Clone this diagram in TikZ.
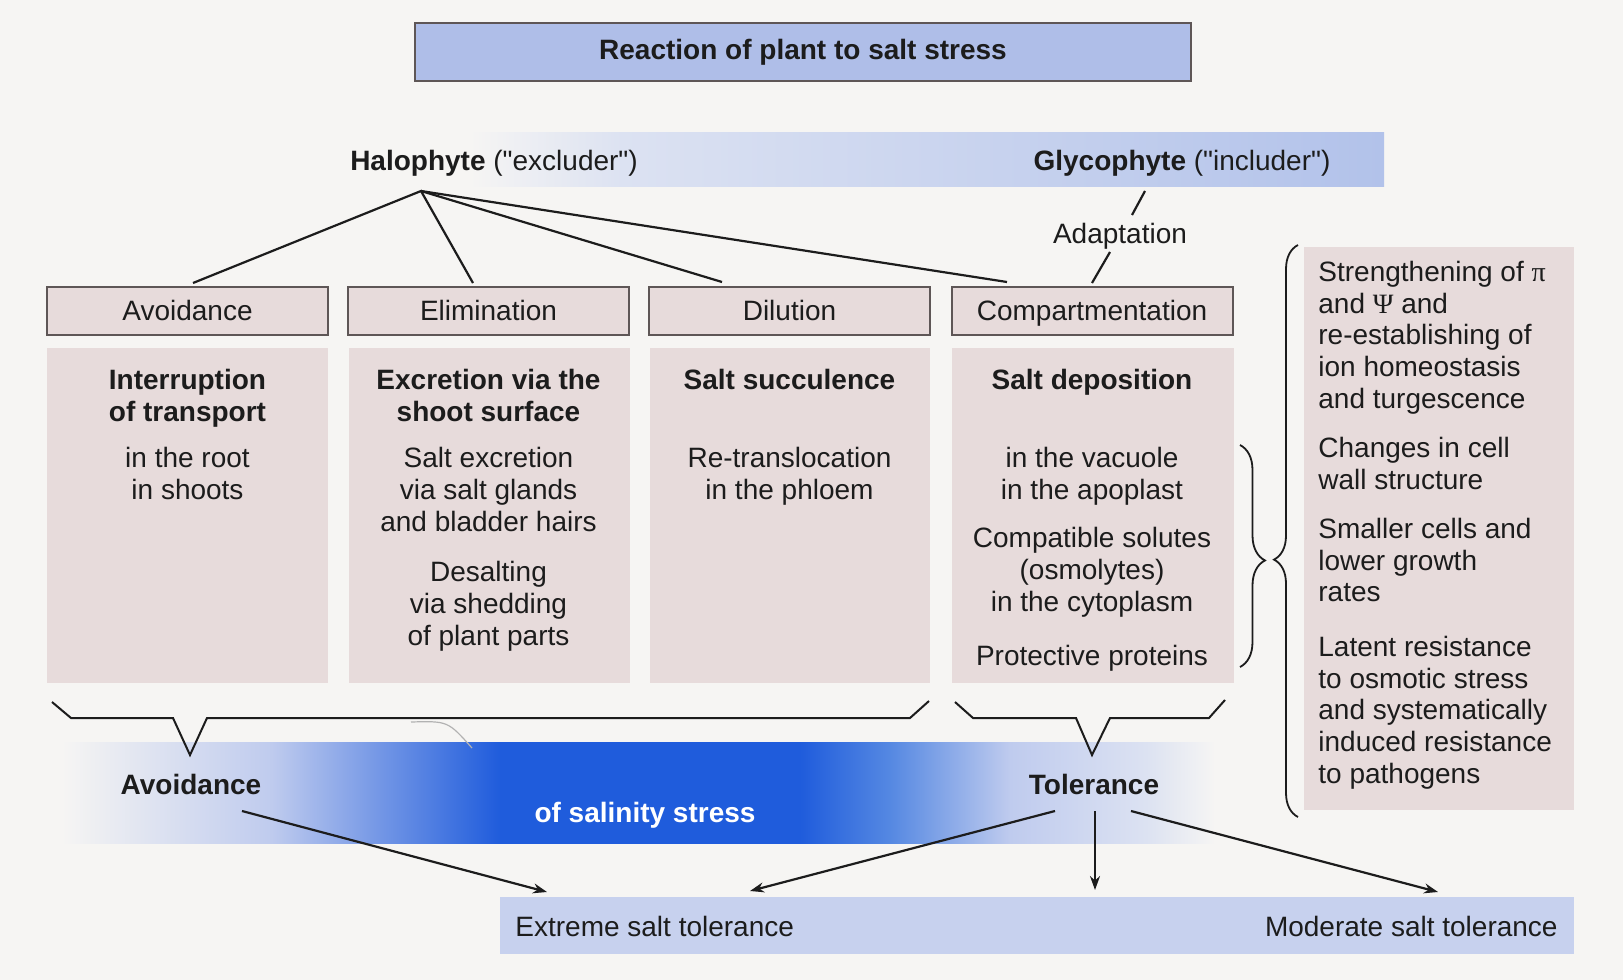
\documentclass[tikz,border=0pt]{standalone}
\usepackage{fontspec}
\setmainfont{Liberation Sans}
\newfontfamily\grk{Liberation Serif}
\newfontfamily\qfont{Liberation Sans}[Ligatures=TeXOff]
\newcommand{\dq}{{\qfont"}}
\usetikzlibrary{arrows.meta,decorations.pathreplacing}

\definecolor{paper}{HTML}{F6F5F3}
\definecolor{titleblue}{HTML}{AFBEE8}
\definecolor{bandpale}{HTML}{DCE2F2}
\definecolor{bandblue}{HTML}{B2C2EA}
\definecolor{boxpink}{HTML}{E7DBDB}
\definecolor{boxline}{HTML}{5E5656}
\definecolor{ink}{HTML}{1C1C1C}
\definecolor{deepblue}{HTML}{1F5CDC}
\definecolor{midblue}{HTML}{5588E2}
\definecolor{lightblue}{HTML}{BFCBEE}
\definecolor{lowblue}{HTML}{C7D1EE}

% salinity band: 25bp..75bp spans the filled rectangle
\pgfdeclarehorizontalshading{salinityband}{100bp}{%
  color(0bp)=(paper); color(25bp)=(paper); color(34.1bp)=(lightblue);
  color(44bp)=(deepblue); color(57bp)=(deepblue); color(60.9bp)=(midblue);
  color(66.1bp)=(lightblue); color(72bp)=(bandpale); color(75bp)=(paper); color(100bp)=(paper)}

\begin{document}
\begin{tikzpicture}[x=0.5pt,y=-0.5pt,
  every node/.style={inner sep=0pt, text=ink, font=\fontsize{14}{16}\selectfont},
  catbox/.style={draw=boxline, line width=1pt, fill=boxpink,
    minimum width=140.5pt, minimum height=24pt, text height=11pt, text depth=2pt},
  coltext/.style={align=center, anchor=north},
  sidetext/.style={align=left, anchor=north west, font=\fontsize{14}{15.8}\selectfont},
  link/.style={draw=ink, line width=1.1pt},
  arr/.style={draw=ink, line width=1.1pt, -{Stealth[length=7pt,width=5pt]}},
  bracket/.style={draw=ink, line width=1pt, line join=miter},
  bracegrp/.style={draw=ink, line width=0.9pt, decorate}
]
\useasboundingbox (0,0) rectangle (1623,980);
\fill[paper] (0,0) rectangle (1623,980);

% ---- title ----
\node[draw=boxline, line width=1.2pt, fill=titleblue, minimum width=388pt,
  minimum height=29pt, font=\fontsize{14}{16}\selectfont\bfseries] (title) at (803,52)
  {Reaction of plant to salt stress};

% ---- halophyte / glycophyte band ----
\fill[left color=paper, right color=bandpale] (470,132) rectangle (622,186);
\fill[left color=bandpale, right color=bandblue] (620,132) rectangle (1384,186);
\node[anchor=base] (halo) at (494,170) {\textbf{Halophyte} (\dq excluder\dq)};
\node[anchor=base] (glyco) at (1182,170) {\textbf{Glycophyte} (\dq includer\dq)};

% ---- category boxes ----
\node[catbox] (cAvoid) at (187.5,311) {Avoidance};
\node[catbox] (cElim)  at (488.5,311) {Elimination};
\node[catbox] (cDil)   at (789.5,311) {Dilution};
\node[catbox] (cComp)  at (1092,311) {Compartmentation};

% links from the halophyte label
\coordinate (apex) at (421,191);
\coordinate (tA) at (193,283);
\coordinate (tE) at (473,283);
\coordinate (tD) at (722,282);
\coordinate (tC) at (1007,282);
\draw[link] (tA) -- (apex) -- (tE);
\draw[link] (apex) -- (tD);
\draw[link] (apex) -- (tC);

% glycophyte -> adaptation -> compartmentation
\node[anchor=base] (adapt) at (1120,243) {Adaptation};
\coordinate (g1) at (1145,191);
\coordinate (g2) at (1132,215);
\coordinate (g3) at (1110,252);
\coordinate (g4) at (1092,283);
\draw[link] (g1) -- (g2);
\draw[link] (g3) -- (g4);

% ---- column bodies ----
\fill[boxpink] (47,348) rectangle (328,683);
\fill[boxpink] (349,348) rectangle (630,683);
\fill[boxpink] (650,348) rectangle (930,683);
\fill[boxpink] (952,348) rectangle (1234,683);

\node[coltext, font=\fontsize{14}{16}\selectfont\bfseries] (a1) at (187.5,369) {Interruption\\of transport};
\node[coltext] (a2) at (187.5,447) {in the root\\in shoots};

\node[coltext, font=\fontsize{14}{16}\selectfont\bfseries] (e1) at (488.5,369) {Excretion via the\\shoot surface};
\node[coltext] (e2) at (488.5,447) {Salt excretion\\via salt glands\\and bladder hairs};
\node[coltext] (e3) at (488.5,561) {Desalting\\via shedding\\of plant parts};

\node[coltext, font=\fontsize{14}{16}\selectfont\bfseries] (d1) at (789.5,369) {Salt succulence};
\node[coltext] (d2) at (789.5,447) {Re-translocation\\in the phloem};

\node[coltext, font=\fontsize{14}{16}\selectfont\bfseries] (s1) at (1092,369) {Salt deposition};
\node[coltext] (s2) at (1092,447) {in the vacuole\\in the apoplast};
\node[coltext] (s3) at (1092,527) {Compatible solutes\\(osmolytes)\\in the cytoplasm};
\node[coltext] (s4) at (1092,645) {Protective proteins};

% ---- right-hand list ----
\fill[boxpink] (1304,247) rectangle (1574,810);
\node[sidetext] (r1) at (1318,261) {Strengthening of {\grk π}\\and {\grk Ψ} and\\re-establishing of\\ion homeostasis\\and turgescence};
\node[sidetext] (r2) at (1318,437) {Changes in cell\\wall structure};
\node[sidetext] (r3) at (1318,518) {Smaller cells and\\lower growth\\rates};
\node[sidetext] (r4) at (1318,636) {Latent resistance\\to osmotic stress\\and systematically\\induced resistance\\to pathogens};

% braces joining the solutes to the list
\draw[bracegrp, decoration={brace, amplitude=12.5pt, aspect=0.52}] (1240,445) -- (1240,667);
\draw[bracegrp, decoration={brace, amplitude=12pt, aspect=0.45}] (1298,817) -- (1298,245);

% ---- salinity-stress band ----
\shade[shading=salinityband] (62,742) rectangle (1215,843);

\draw[gray!60, line width=0.6pt] (411,722) .. controls (448,721) .. (472,748);

% brackets under the columns
\draw[bracket] (52,702) -- (71,718) -- (173,718) -- (190,755) -- (207,718) -- (910,718) -- (929,701);
\draw[bracket] (955,702) -- (973,718) -- (1076,718) -- (1092,755) -- (1110,718) -- (1209,718) -- (1225,700);

\node[anchor=base, font=\fontsize{14}{16}\selectfont\bfseries] (avoid) at (191,794) {Avoidance};
\node[anchor=base, font=\fontsize{14}{16}\selectfont\bfseries] (toler) at (1094,794) {Tolerance};
\node[anchor=base, font=\fontsize{14}{16}\selectfont\bfseries, text=white] (salin) at (645,822) {of salinity stress};

% ---- outcome band ----
\fill[lowblue] (500,897) rectangle (1574,954);
\node[anchor=base west] (extreme) at (515,936) {Extreme salt tolerance};
\node[anchor=base east] (moderate) at (1558,936) {Moderate salt tolerance};

\coordinate (avS) at (242,811);
\coordinate (tlS) at (1055,811);
\coordinate (tmS) at (1095,811);
\coordinate (trS) at (1131,811);
\coordinate (exT) at (547,892);
\coordinate (exU) at (750,891);
\coordinate (moT) at (1095,890);
\coordinate (moU) at (1438,892);
\draw[arr] (avS) -- (exT);
\draw[arr] (tlS) -- (exU);
\draw[arr] (tmS) -- (moT);
\draw[arr] (trS) -- (moU);
\end{tikzpicture}
\end{document}
